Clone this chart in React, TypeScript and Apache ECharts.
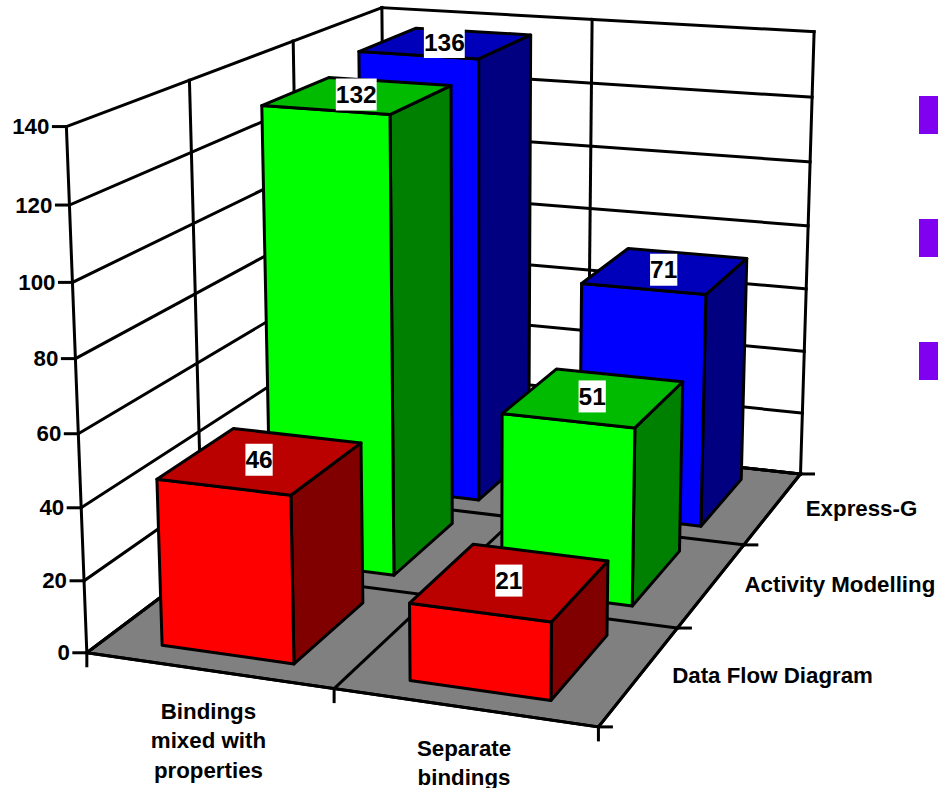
import React, { useEffect, useRef } from "react";
import * as echarts from "echarts";

// Categories along the floor's front edge and along its depth, front row first.
const categories = ["Bindings\nmixed with\nproperties", "Separate\nbindings"];
const depthNames = ["Data Flow Diagram", "Activity Modelling", "Express-G"];

// Values per depth row, in category order.
const dataFlowDiagram = [46, 21];
const activityModelling = [132, 51];
const expressG = [136, 71];

const valueTicks = [0, 20, 40, 60, 80, 100, 120, 140];
const legendSwatchTops = [96, 219, 342];

const AXIS_MAX = 140;
const FONT = '"Liberation Sans", Arial, sans-serif';
const LINE = 3;

const rowColors = [
  { front: "#ff0000", top: "#bb0000", side: "#800000" },
  { front: "#00ff00", top: "#00bb00", side: "#008000" },
  { front: "#0000ff", top: "#0000bb", side: "#000080" },
];

// Camera calibration pairs: box position (along front edge, depth, value)
// and where that position sits on the canvas.
const cameraAnchors: number[][] = [
  [0, 0, 0, 87.3, 652.7],
  [1, 0, 0, 598.3, 726.7],
  [1, 1, 0, 800.7, 475],
  [0.5, 0, 0, 334.3, 688.3],
  [1, 1 / 3, 0, 678.3, 628.3],
  [1, 2 / 3, 0, 743.3, 545],
  [0, 0, 140, 66.3, 126],
  [0, 0, 120, 69.3, 205],
  [0, 0, 100, 72.7, 282.3],
  [0, 0, 20, 83.3, 581],
  [0, 1 / 3, 140, 189, 81],
  [0, 2 / 3, 140, 293.3, 41.7],
  [0, 1, 140, 381.7, 7.3],
  [0.5, 1, 140, 592.3, 20.7],
  [1, 1, 140, 815, 31],
  [1, 1, 120, 811.7, 97.3],
  [1, 1, 100, 809.3, 162.3],
  [1, 1, 20, 801.7, 412.7],
  [0.5, 1, 100, 591, 145],
  [0.5, 1, 80, 590.5, 208.3],
  [0.5, 1, 60, 590, 269.3],
];

// Solves the square linear system M x = r by elimination with pivoting.
function solve(M: number[][], r: number[]): number[] {
  const n = r.length;
  const m = M.map((row, i) => [...row, r[i]]);
  for (let c = 0; c < n; c++) {
    let pivot = c;
    for (let i = c + 1; i < n; i++) if (Math.abs(m[i][c]) > Math.abs(m[pivot][c])) pivot = i;
    [m[c], m[pivot]] = [m[pivot], m[c]];
    for (let i = 0; i < n; i++) {
      if (i === c) continue;
      const f = m[i][c] / m[c][c];
      for (let j = c; j <= n; j++) m[i][j] -= f * m[c][j];
    }
  }
  return m.map((row, i) => row[n] / row[i]);
}

// Least-squares projective camera through the calibration pairs.
function makeProjection() {
  const S = 1000;
  const rows: number[][] = [];
  const rhs: number[] = [];
  cameraAnchors.forEach(([u, v, value, x, y]) => {
    const t = value / AXIS_MAX;
    const sx = x / S;
    const sy = y / S;
    rows.push([u, v, t, 1, 0, 0, 0, 0, -sx * u, -sx * v, -sx * t]);
    rhs.push(sx);
    rows.push([0, 0, 0, 0, u, v, t, 1, -sy * u, -sy * v, -sy * t]);
    rhs.push(sy);
  });
  const n = 11;
  const N = Array.from({ length: n }, (_, i) =>
    Array.from({ length: n }, (_, j) => rows.reduce((s, row) => s + row[i] * row[j], 0))
  );
  const R = Array.from({ length: n }, (_, i) => rows.reduce((s, row, k) => s + row[i] * rhs[k], 0));
  const p = solve(N, R);
  // u: along the front edge, v: depth, t: height, each 0..1
  return (u: number, v: number, t: number): number[] => {
    const w = p[8] * u + p[9] * v + p[10] * t + 1;
    return [
      (S * (p[0] * u + p[1] * v + p[2] * t + p[3])) / w,
      (S * (p[4] * u + p[5] * v + p[6] * t + p[7])) / w,
    ];
  };
}

const project = makeProjection();
const heightOf = (value: number) =>
  echarts.number.linearMap(value, [0, AXIS_MAX], [0, 1]);

const BAR_HALF_U = 0.135;
const BAR_HALF_V = 0.1117;
const cellU = (i: number) => (i + 0.5) / categories.length;
const cellV = (i: number) => (i + 0.5) / depthNames.length;

const line = (p: number[], q: number[], width = LINE) => ({
  type: "line",
  shape: { x1: p[0], y1: p[1], x2: q[0], y2: q[1] },
  style: { stroke: "#000", lineWidth: width, lineCap: "square" },
});

const boldText = (x: number, y: number, text: string, extra: object) => ({
  type: "text",
  style: {
    x,
    y,
    text,
    fill: "#000",
    fontFamily: FONT,
    fontWeight: "bold",
    fontSize: 22.3,
    ...extra,
  },
});

// Floor with its dividers, ticks, and axis names on the front and right edges.
function renderFloor() {
  const children: any[] = [
    {
      type: "polygon",
      shape: { points: [project(0, 0, 0), project(1, 0, 0), project(1, 1, 0), project(0, 1, 0)] },
      style: { fill: "#808080", stroke: "#000", lineWidth: LINE, lineJoin: "miter" },
    },
  ];
  for (let i = 0; i <= categories.length; i++) {
    const u = i / categories.length;
    const p = project(u, 0, 0);
    children.push(line(project(u, 1, 0), p));
    children.push(line(p, [p[0], p[1] + 13]));
  }
  for (let i = 0; i <= depthNames.length; i++) {
    const v = i / depthNames.length;
    const p = project(1, v, 0);
    children.push(line(project(0, v, 0), p));
    children.push(line(p, [p[0] + 13, p[1]]));
  }
  categories.forEach((name, i) => {
    const p = project(cellU(i), 0, 0);
    children.push(
      boldText(p[0], p[1] + 26, name, { align: "center", verticalAlign: "top", lineHeight: 29.5 })
    );
  });
  depthNames.forEach((name, i) => {
    const p = project(1, cellV(i), 0);
    children.push(boldText(p[0] + 32.5, p[1], name, { align: "left", verticalAlign: "middle" }));
  });
  return { type: "group", children };
}

// One value tick: gridline across both walls, tick mark and tick label.
function renderWallLine(_params: any, api: any) {
  const value = api.value(0);
  const t = heightOf(value);
  const front = project(0, 0, t);
  return {
    type: "group",
    children: [
      line(front, project(0, 1, t)),
      line(project(0, 1, t), project(1, 1, t)),
      line(front, [front[0] - 13, front[1]]),
      boldText(front[0] - 17, front[1], String(value), { align: "right", verticalAlign: "middle" }),
    ],
  };
}

// Vertical wall edges and dividers, from the height axis range.
function renderWallFrame() {
  const children: any[] = [];
  for (let i = 0; i <= depthNames.length; i++) {
    const v = i / depthNames.length;
    children.push(line(project(0, v, 0), project(0, v, 1)));
  }
  for (let i = 1; i <= categories.length; i++) {
    const u = i / categories.length;
    children.push(line(project(u, 1, 0), project(u, 1, 1)));
  }
  return { type: "group", children };
}

function renderBar(_params: any, api: any) {
  const cat = api.value(0);
  const row = api.value(1);
  const t = heightOf(api.value(2));
  const u0 = cellU(cat) - BAR_HALF_U;
  const u1 = cellU(cat) + BAR_HALF_U;
  const v0 = cellV(row) - BAR_HALF_V;
  const v1 = cellV(row) + BAR_HALF_V;
  const colors = rowColors[row];
  const face = (points: number[][], fill: string) => ({
    type: "polygon",
    shape: { points },
    style: { fill, stroke: "#000", lineWidth: LINE, lineJoin: "round" },
  });
  return {
    type: "group",
    children: [
      face([project(u1, v0, 0), project(u1, v1, 0), project(u1, v1, t), project(u1, v0, t)], colors.side),
      face([project(u0, v0, 0), project(u1, v0, 0), project(u1, v0, t), project(u0, v0, t)], colors.front),
      face([project(u0, v0, t), project(u1, v0, t), project(u1, v1, t), project(u0, v1, t)], colors.top),
    ],
  };
}

function renderValueLabel(_params: any, api: any) {
  const value = api.value(2);
  const p = project(cellU(api.value(0)), cellV(api.value(1)), heightOf(value));
  return boldText(p[0] - 2, p[1] - 1, String(value), {
    align: "center",
    verticalAlign: "middle",
    fontSize: 24.5,
    backgroundColor: "#fff",
    padding: [4, 0, 3, 0],
  });
}

// Back rows are listed first so that front rows paint over them.
const rows = [dataFlowDiagram, activityModelling, expressG];
const barData: number[][] = [];
for (let row = rows.length - 1; row >= 0; row--) {
  rows[row].forEach((value, cat) => barData.push([cat, row, value]));
}

export default function App() {
  const ref = useRef<HTMLDivElement>(null);

  useEffect(() => {
    const chart = echarts.init(ref.current!, undefined, { renderer: "svg" });
    chart.setOption({
      animation: false,
      backgroundColor: "#fff",
      graphic: legendSwatchTops.map((top) => ({
        type: "rect",
        shape: { x: 919, y: top, width: 19, height: 38 },
        style: { fill: "#8000f0" },
      })),
      series: [
        { type: "custom", coordinateSystem: "none", silent: true, data: [0], renderItem: renderFloor },
        { type: "custom", coordinateSystem: "none", silent: true, data: [0], renderItem: renderWallFrame },
        {
          type: "custom",
          coordinateSystem: "none",
          silent: true,
          data: valueTicks.map((v) => [v]),
          renderItem: renderWallLine,
        },
        { type: "custom", coordinateSystem: "none", silent: true, data: barData, renderItem: renderBar },
        { type: "custom", coordinateSystem: "none", silent: true, data: barData, renderItem: renderValueLabel },
      ],
    });
    return () => chart.dispose();
  }, []);

  return <div ref={ref} style={{ position: "absolute", left: 0, top: 0, width: 938, height: 788 }} />;
}
